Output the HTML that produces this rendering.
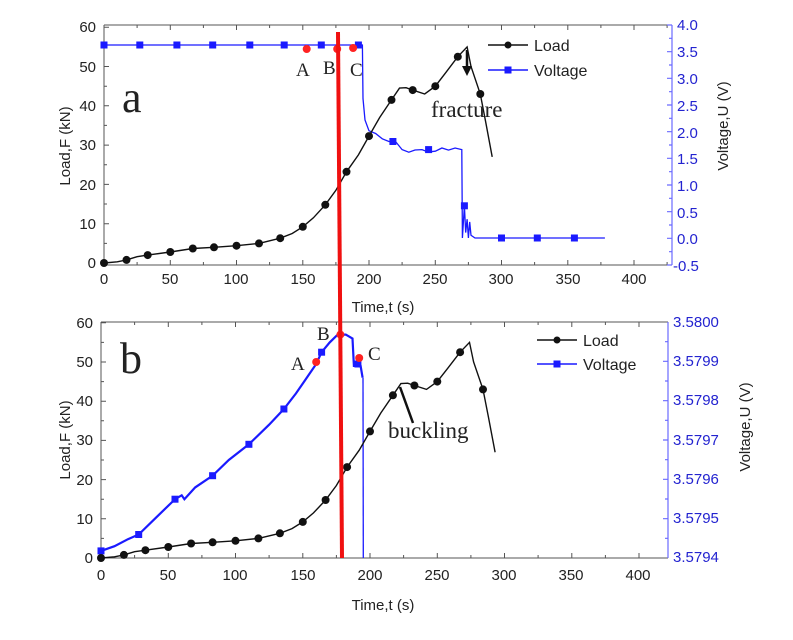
<!DOCTYPE html>
<html><head><meta charset="utf-8"><style>
body{margin:0;background:#fff;}
svg{display:block;font-family:"Liberation Sans",sans-serif;}
</style></head><body>
<svg width="793" height="640" xmlns="http://www.w3.org/2000/svg">
<rect width="793" height="640" fill="#fff"/>
<!-- axes frames -->
<g fill="none" stroke="#555" stroke-width="1">
<path d="M104 25H672M104 265H672M104 25V265"/>
<path d="M101 322H668M101 558H668M101 322V558"/>
<!-- x ticks top -->
<path d="M104 265v-5M170.3 265v-5M236.5 265v-5M302.8 265v-5M369 265v-5M435.3 265v-5M501.5 265v-5M567.8 265v-5M634 265v-5M137.1 265v-3M203.4 265v-3M269.6 265v-3M335.9 265v-3M402.1 265v-3M468.4 265v-3M534.6 265v-3M600.9 265v-3M667.1 265v-3
M170.3 25v5M236.5 25v5M302.8 25v5M369 25v5M435.3 25v5M501.5 25v5M567.8 25v5M634 25v5M137.1 25v3M203.4 25v3M269.6 25v3M335.9 25v3M402.1 25v3M468.4 25v3M534.6 25v3M600.9 25v3M667.1 25v3"/>
<path d="M101 558v-5M168.3 558v-5M235.5 558v-5M302.8 558v-5M370 558v-5M437.3 558v-5M504.5 558v-5M571.8 558v-5M639 558v-5M134.6 558v-3M201.9 558v-3M269.1 558v-3M336.4 558v-3M403.6 558v-3M470.9 558v-3M538.1 558v-3M605.4 558v-3
M168.3 322v5M235.5 322v5M302.8 322v5M370 322v5M437.3 322v5M504.5 322v5M571.8 322v5M639 322v5M134.6 322v3M201.9 322v3M269.1 322v3M336.4 322v3M403.6 322v3M470.9 322v3M538.1 322v3M605.4 322v3"/>
<!-- y ticks left -->
<path d="M104 223.7h5M104 184.4h5M104 145.1h5M104 105.8h5M104 66.5h5M104 27.2h5M104 243.4h3M104 204h3M104 164.8h3M104 125.4h3M104 86.2h3M104 46.8h3"/>
<path d="M101 518.8h5M101 479.6h5M101 440.4h5M101 401.2h5M101 362h5M101 322.8h5M101 538.4h3M101 499.2h3M101 460h3M101 420.8h3M101 381.6h3M101 342.4h3"/>
</g>
<g fill="none" stroke="#6a6aff" stroke-width="1.2">
<path d="M672 25V265M668 322V558"/>
<path d="M672 25h-5M672 51.7h-5M672 78.3h-5M672 105h-5M672 131.7h-5M672 158.3h-5M672 185h-5M672 211.7h-5M672 238.3h-5M672 265h-5M672 38.3h-3M672 65h-3M672 91.7h-3M672 118.3h-3M672 145h-3M672 171.7h-3M672 198.3h-3M672 225h-3M672 251.7h-3"/>
<path d="M668 361.3h-5M668 400.7h-5M668 440h-5M668 479.3h-5M668 518.7h-5M668 341.7h-3M668 381h-3M668 420.3h-3M668 459.7h-3M668 499h-3M668 538.3h-3"/>
</g>

<!-- top voltage -->
<polyline fill="none" stroke="#1a1aff" stroke-width="1.3" points="104,45 362.4,45 363,98.6 365,120 369,130.8 375.6,133.5 382.3,138.8 388.9,141.5 395.5,141.5 402.1,149.6 408.8,152.2 415,150 422,149.6 428,152 435.3,151.2 441.9,148 448.5,150.1 455.1,148 461.8,149.6 462.4,238 464.4,205.8 465.7,232.6 467.1,219.2 468.4,238 469.7,221.9 471,235.3 475,238 604.9,238"/>
<g fill="#1a1aff">
<rect x="100.5" y="41.5" width="7" height="7"/><rect x="136.3" y="41.5" width="7" height="7"/><rect x="173.4" y="41.5" width="7" height="7"/><rect x="209.2" y="41.5" width="7" height="7"/><rect x="246.3" y="41.5" width="7" height="7"/><rect x="280.7" y="41.5" width="7" height="7"/><rect x="317.8" y="41.5" width="7" height="7"/><rect x="354.9" y="41.5" width="7" height="7"/>
<rect x="389.4" y="138" width="7" height="7"/><rect x="425.1" y="146.1" width="7" height="7"/><rect x="460.9" y="202.3" width="7" height="7"/><rect x="498" y="234.5" width="7" height="7"/><rect x="533.8" y="234.5" width="7" height="7"/><rect x="570.9" y="234.5" width="7" height="7"/>
</g>
<g fill="#f22"><circle cx="306.7" cy="49" r="4"/><circle cx="337.2" cy="49" r="4"/><circle cx="353.1" cy="48" r="4"/></g>

<!-- top load -->
<polyline fill="none" stroke="#111" stroke-width="1.4" points="104,263 117.3,261.8 126.5,259.9 137.1,256.7 147.7,255.1 170.3,252 192.8,248.5 214,247.3 236.5,245.7 259,243.4 280.2,238.2 292.2,233.5 302.8,226.8 313.4,217.8 325.3,204.8 335.9,190.3 346.5,171.8 358.4,154.9 369,136.1 379.6,117.6 391.5,99.9 399.5,88.1 406.1,87.7 412.7,90.1 424.7,94 435.3,86.2 445.9,72.4 457.8,56.7 467.1,46.9 471,66.5 480.3,94 485.6,121.5 492.2,156.9"/>
<g fill="#111">
<circle cx="104" cy="263" r="4"/><circle cx="126.5" cy="259.9" r="4"/><circle cx="147.7" cy="255.1" r="4"/><circle cx="170.3" cy="252" r="4"/><circle cx="192.8" cy="248.5" r="4"/><circle cx="214" cy="247.3" r="4"/><circle cx="236.5" cy="245.7" r="4"/><circle cx="259" cy="243.4" r="4"/><circle cx="280.2" cy="238.2" r="4"/><circle cx="302.8" cy="226.8" r="4"/><circle cx="325.3" cy="204.8" r="4"/><circle cx="346.5" cy="171.8" r="4"/><circle cx="369" cy="136.1" r="4"/><circle cx="391.5" cy="99.9" r="4"/><circle cx="412.7" cy="90.1" r="4"/><circle cx="435.3" cy="86.2" r="4"/><circle cx="457.8" cy="56.7" r="4"/><circle cx="480.3" cy="94" r="4"/>
</g>

<!-- bottom voltage -->
<polyline fill="none" stroke="#1a1aff" stroke-width="2.2" points="101,550.9 114.5,546.2 127.9,539.2 138.7,534.5 154.8,518.8 175,499.2 181.7,495.3 184.4,499.2 195.2,487.4 212.6,475.7 228.8,460 248.9,444.3 269.1,424.7 283.9,409 296,393.4 309.5,373.8 316.2,364 321.6,352.2 329.7,342.4 337.7,334.6 345.8,334.6 352.5,338.5 353.9,365.9 360.6,365.9 362.6,377.7"/>
<line x1="363" y1="377.7" x2="363.3" y2="558" stroke="#1a1aff" stroke-width="1.3"/>
<g fill="#1a1aff">
<rect x="97.5" y="547.4" width="7" height="7"/><rect x="135.2" y="531" width="7" height="7"/><rect x="171.5" y="495.7" width="7" height="7"/><rect x="209.1" y="472.2" width="7" height="7"/><rect x="245.4" y="440.8" width="7" height="7"/><rect x="280.4" y="405.5" width="7" height="7"/><rect x="318.1" y="348.7" width="7" height="7"/><rect x="354.4" y="360.5" width="7" height="7"/>
</g>
<g fill="#f22"><circle cx="316.2" cy="362" r="4"/><circle cx="340.4" cy="334.6" r="4"/><circle cx="359.2" cy="358" r="4"/></g>

<!-- bottom load -->
<polyline fill="none" stroke="#111" stroke-width="1.4" points="101,558 114.5,556.8 123.9,554.9 134.6,551.7 145.4,550.2 168.3,547 191.1,543.5 212.6,542.3 235.5,540.8 258.4,538.4 279.9,533.3 292,528.6 302.8,521.9 313.5,512.9 325.6,500 336.4,485.5 347.1,467.1 359.2,450.2 370,431.4 380.8,413 392.9,395.3 400.9,383.6 407.7,383.2 414.4,385.5 426.5,389.4 437.3,381.6 448,367.9 460.1,352.2 469.5,342.4 473.6,362 483,389.4 488.4,416.9 495.1,452.2"/>
<g fill="#111">
<circle cx="101" cy="558" r="4"/><circle cx="123.9" cy="554.9" r="4"/><circle cx="145.4" cy="550.2" r="4"/><circle cx="168.3" cy="547" r="4"/><circle cx="191.1" cy="543.5" r="4"/><circle cx="212.6" cy="542.3" r="4"/><circle cx="235.5" cy="540.8" r="4"/><circle cx="258.4" cy="538.4" r="4"/><circle cx="279.9" cy="533.3" r="4"/><circle cx="302.8" cy="521.9" r="4"/><circle cx="325.6" cy="500" r="4"/><circle cx="347.1" cy="467.1" r="4"/><circle cx="370" cy="431.4" r="4"/><circle cx="392.9" cy="395.3" r="4"/><circle cx="414.4" cy="385.5" r="4"/><circle cx="437.3" cy="381.6" r="4"/><circle cx="460.1" cy="352.2" r="4"/><circle cx="483" cy="389.4" r="4"/>
</g>

<line x1="338" y1="32" x2="342" y2="558" stroke="#f01010" stroke-width="4"/>

<!-- tick labels -->
<g font-size="15" fill="#222" text-anchor="end">
<text x="96" y="32">60</text><text x="96" y="72">50</text><text x="96" y="111">40</text><text x="96" y="150">30</text><text x="96" y="190">20</text><text x="96" y="229">10</text><text x="96" y="268">0</text>
<text x="93" y="328">60</text><text x="93" y="367">50</text><text x="93" y="406">40</text><text x="93" y="445">30</text><text x="93" y="485">20</text><text x="93" y="524">10</text><text x="93" y="563">0</text>
</g>
<g font-size="15" fill="#222" text-anchor="middle">
<text x="104" y="284">0</text><text x="170" y="284">50</text><text x="236" y="284">100</text><text x="303" y="284">150</text><text x="369" y="284">200</text><text x="435" y="284">250</text><text x="501" y="284">300</text><text x="568" y="284">350</text><text x="634" y="284">400</text>
<text x="383" y="312">Time,t (s)</text>
<text x="101" y="580">0</text><text x="168" y="580">50</text><text x="235" y="580">100</text><text x="303" y="580">150</text><text x="370" y="580">200</text><text x="437" y="580">250</text><text x="504" y="580">300</text><text x="571" y="580">350</text><text x="638" y="580">400</text>
<text x="383" y="610">Time,t (s)</text>
</g>
<text transform="translate(70,146) rotate(-90)" font-size="15" text-anchor="middle" fill="#222">Load,F (kN)</text>
<text transform="translate(70,440) rotate(-90)" font-size="15" text-anchor="middle" fill="#222">Load,F (kN)</text>
<g font-size="15" fill="#2323d0">
<text x="677" y="30">4.0</text><text x="677" y="57">3.5</text><text x="677" y="84">3.0</text><text x="677" y="111">2.5</text><text x="677" y="138">2.0</text><text x="677" y="164">1.5</text><text x="677" y="191">1.0</text><text x="677" y="218">0.5</text><text x="677" y="244">0.0</text><text x="673" y="271">-0.5</text>
<text x="673" y="327">3.5800</text><text x="673" y="366">3.5799</text><text x="673" y="405">3.5798</text><text x="673" y="445">3.5797</text><text x="673" y="484">3.5796</text><text x="673" y="523">3.5795</text><text x="673" y="562">3.5794</text>
</g>
<text transform="translate(728,126) rotate(-90)" font-size="15" text-anchor="middle" fill="#222">Voltage,U (V)</text>
<text transform="translate(750,427) rotate(-90)" font-size="15" text-anchor="middle" fill="#222">Voltage,U (V)</text>

<!-- legends -->
<g stroke-width="1.5">
<line x1="488" y1="45" x2="528" y2="45" stroke="#111"/><circle cx="508" cy="45" r="3.5" fill="#111"/>
<line x1="488" y1="70" x2="528" y2="70" stroke="#1a1aff"/><rect x="504.5" y="66.5" width="7" height="7" fill="#1a1aff"/>
<line x1="537" y1="340" x2="577" y2="340" stroke="#111"/><circle cx="557" cy="340" r="3.5" fill="#111"/>
<line x1="537" y1="364" x2="577" y2="364" stroke="#1a1aff"/><rect x="553.5" y="360.5" width="7" height="7" fill="#1a1aff"/>
</g>
<g font-size="16" fill="#222">
<text x="534" y="51">Load</text><text x="534" y="76">Voltage</text>
<text x="583" y="346">Load</text><text x="583" y="370">Voltage</text>
</g>
<g fill="#222" font-family="Liberation Serif,serif">
<text x="122" y="112" font-size="44">a</text>
<text x="120" y="373" font-size="44">b</text>
<g font-size="19">
<text x="296" y="76">A</text><text x="323" y="74">B</text><text x="350" y="76">C</text>
<text x="291" y="370">A</text><text x="317" y="340">B</text><text x="368" y="360">C</text>
<text x="431" y="117" font-size="23">fracture</text>
<text x="388" y="438" font-size="23">buckling</text>
</g></g>
<g stroke="#111" stroke-width="2.5"><line x1="467" y1="50" x2="467" y2="70"/><line x1="400" y1="387" x2="413" y2="423"/></g>
<polygon points="462,66 472,66 467,76" fill="#111"/>
</svg>
</body></html>
